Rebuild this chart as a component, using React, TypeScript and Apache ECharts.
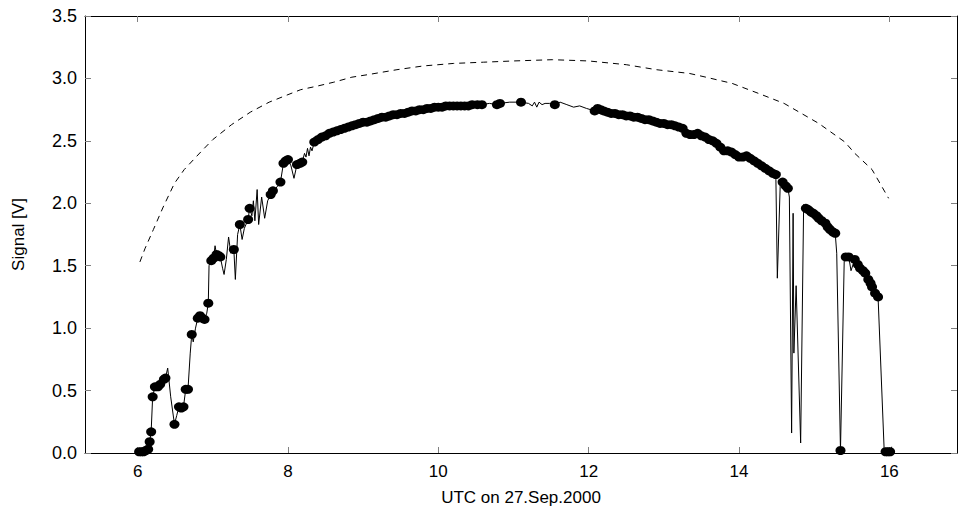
import React, { useEffect, useRef } from "react";
import * as echarts from "echarts";

// Measured signal: [UTC hour, signal V, clear flag (1 = marked point)]
const measured: [number, number, number][] = [
  [6.0, 0.04, 0], [6.02, 0.01, 1], [6.05, 0.01, 1], [6.08, 0.01, 1], [6.11, 0.02, 1], [6.14, 0.03, 1],
  [6.16, 0.09, 1], [6.18, 0.17, 1], [6.2, 0.45, 1], [6.23, 0.53, 1], [6.27, 0.53, 1], [6.3, 0.55, 1],
  [6.35, 0.59, 1], [6.37, 0.6, 1], [6.4, 0.68, 0], [6.44, 0.45, 0], [6.49, 0.23, 1], [6.52, 0.3, 0],
  [6.55, 0.37, 1], [6.58, 0.36, 1], [6.61, 0.37, 1], [6.64, 0.51, 1], [6.67, 0.51, 1], [6.7, 0.8, 0],
  [6.72, 0.95, 1], [6.74, 0.89, 0], [6.77, 1.0, 0], [6.8, 1.08, 1], [6.83, 1.1, 1], [6.86, 1.08, 1],
  [6.89, 1.07, 1], [6.92, 1.12, 0], [6.94, 1.2, 1], [6.95, 1.5, 0], [6.98, 1.54, 1], [7.01, 1.56, 1],
  [7.03, 1.66, 0], [7.05, 1.59, 1], [7.08, 1.58, 1], [7.1, 1.57, 1], [7.13, 1.48, 0], [7.15, 1.43, 0],
  [7.18, 1.55, 0], [7.21, 1.73, 0], [7.24, 1.6, 0], [7.28, 1.63, 1], [7.3, 1.39, 0], [7.33, 1.75, 0],
  [7.36, 1.83, 1], [7.39, 1.71, 0], [7.42, 1.8, 0], [7.47, 1.87, 1], [7.49, 1.96, 1], [7.52, 1.9, 0],
  [7.54, 2.02, 0], [7.56, 1.86, 0], [7.59, 2.11, 0], [7.61, 1.83, 0], [7.65, 2.05, 0], [7.69, 1.88, 0],
  [7.73, 2.02, 0], [7.77, 2.07, 1], [7.8, 2.1, 1], [7.84, 2.12, 0], [7.9, 2.17, 1], [7.94, 2.32, 1],
  [7.97, 2.34, 1], [8.0, 2.35, 1], [8.04, 2.3, 0], [8.08, 2.2, 0], [8.12, 2.31, 1], [8.16, 2.32, 1],
  [8.19, 2.33, 1], [8.22, 2.4, 0], [8.24, 2.37, 0], [8.26, 2.44, 0], [8.28, 2.38, 0], [8.3, 2.45, 0],
  [8.32, 2.42, 0], [8.35, 2.49, 1], [8.4, 2.51, 1], [8.45, 2.53, 1], [8.5, 2.54, 1], [8.55, 2.56, 1],
  [8.6, 2.57, 1], [8.65, 2.58, 1], [8.7, 2.59, 1], [8.75, 2.6, 1], [8.8, 2.61, 1], [8.85, 2.62, 1],
  [8.9, 2.63, 1], [8.95, 2.64, 1], [9.0, 2.65, 1], [9.05, 2.65, 1], [9.1, 2.66, 1], [9.15, 2.67, 1],
  [9.2, 2.68, 1], [9.25, 2.69, 1], [9.3, 2.69, 1], [9.35, 2.7, 1], [9.4, 2.71, 1], [9.45, 2.71, 1],
  [9.5, 2.72, 1], [9.55, 2.72, 1], [9.6, 2.73, 1], [9.65, 2.74, 1], [9.7, 2.74, 1], [9.75, 2.75, 1],
  [9.8, 2.75, 1], [9.85, 2.76, 1], [9.9, 2.76, 1], [9.95, 2.77, 1], [10.0, 2.77, 1], [10.05, 2.77, 1],
  [10.1, 2.78, 1], [10.15, 2.78, 1], [10.2, 2.78, 1], [10.25, 2.78, 1], [10.3, 2.78, 1], [10.35, 2.78, 1],
  [10.4, 2.78, 1], [10.45, 2.79, 1], [10.52, 2.79, 1], [10.58, 2.79, 1], [10.68, 2.8, 0], [10.78, 2.79, 1],
  [10.82, 2.8, 1], [10.95, 2.81, 0], [11.1, 2.81, 1], [11.2, 2.8, 0], [11.25, 2.78, 0], [11.28, 2.81, 0],
  [11.31, 2.77, 0], [11.34, 2.81, 0], [11.38, 2.79, 0], [11.42, 2.8, 0], [11.48, 2.8, 0], [11.55, 2.79, 1],
  [11.62, 2.81, 0], [11.71, 2.79, 0], [11.8, 2.77, 0], [11.88, 2.78, 0], [11.97, 2.76, 0], [12.08, 2.74, 1],
  [12.12, 2.76, 1], [12.16, 2.75, 1], [12.2, 2.74, 1], [12.25, 2.73, 1], [12.3, 2.72, 1], [12.35, 2.72, 1],
  [12.4, 2.71, 1], [12.45, 2.71, 1], [12.5, 2.7, 1], [12.55, 2.7, 1], [12.6, 2.69, 1], [12.65, 2.69, 1],
  [12.7, 2.68, 1], [12.75, 2.67, 1], [12.8, 2.67, 1], [12.85, 2.66, 1], [12.9, 2.65, 1], [12.95, 2.64, 1],
  [13.0, 2.64, 1], [13.05, 2.63, 1], [13.1, 2.63, 1], [13.15, 2.62, 1], [13.2, 2.61, 1], [13.25, 2.6, 1],
  [13.3, 2.56, 1], [13.35, 2.55, 1], [13.4, 2.55, 1], [13.45, 2.56, 1], [13.5, 2.54, 1], [13.55, 2.53, 1],
  [13.6, 2.51, 1], [13.65, 2.5, 1], [13.7, 2.48, 1], [13.75, 2.45, 1], [13.8, 2.42, 1], [13.85, 2.42, 1],
  [13.9, 2.41, 1], [13.95, 2.39, 1], [14.0, 2.37, 1], [14.05, 2.37, 1], [14.1, 2.38, 1], [14.15, 2.36, 1],
  [14.2, 2.34, 1], [14.25, 2.32, 1], [14.3, 2.3, 1], [14.35, 2.28, 1], [14.4, 2.26, 1], [14.45, 2.24, 1],
  [14.49, 2.23, 1], [14.51, 1.4, 0], [14.55, 2.18, 0], [14.58, 2.17, 1], [14.62, 2.14, 1], [14.65, 2.12, 1],
  [14.67, 2.05, 0], [14.7, 0.16, 0], [14.72, 1.92, 0], [14.73, 0.8, 0], [14.76, 1.34, 0], [14.82, 0.08, 0],
  [14.86, 1.99, 0], [14.89, 1.96, 1], [14.92, 1.95, 1], [14.96, 1.93, 1], [14.99, 1.92, 1], [15.03, 1.9, 1],
  [15.06, 1.88, 1], [15.1, 1.86, 1], [15.15, 1.84, 1], [15.18, 1.81, 1], [15.21, 1.79, 1], [15.25, 1.77, 1],
  [15.28, 1.76, 1], [15.3, 1.6, 0], [15.35, 0.02, 1], [15.4, 1.55, 0], [15.42, 1.57, 1], [15.46, 1.57, 1],
  [15.49, 1.46, 0], [15.54, 1.55, 1], [15.58, 1.51, 1], [15.61, 1.48, 1], [15.65, 1.46, 1], [15.68, 1.44, 1],
  [15.72, 1.39, 1], [15.75, 1.36, 1], [15.77, 1.33, 1], [15.81, 1.28, 1], [15.85, 1.25, 1], [15.93, 0.04, 0],
  [15.95, 0.01, 1], [15.98, 0.01, 1], [16.01, 0.01, 1], [16.03, 0.05, 0],
];

// Clear-sky reference (dashed): [UTC hour, signal V]
const clearSky: [number, number][] = [
  [6.03, 1.53], [6.1, 1.64], [6.21, 1.79], [6.34, 1.97], [6.49, 2.16], [6.62, 2.27], [6.76, 2.36],
  [6.87, 2.43], [7.0, 2.51], [7.25, 2.63], [7.5, 2.73], [7.75, 2.81], [8.0, 2.87], [8.17, 2.91],
  [8.4, 2.94], [8.61, 2.97], [8.85, 3.01], [9.06, 3.03], [9.45, 3.07], [9.8, 3.1], [10.2, 3.12],
  [10.6, 3.13], [11.0, 3.14], [11.52, 3.15], [12.0, 3.14], [12.5, 3.11], [12.9, 3.07], [13.34, 3.04],
  [13.56, 3.01], [13.91, 2.96], [14.26, 2.88], [14.6, 2.8], [15.06, 2.64], [15.41, 2.49], [15.54, 2.4],
  [15.77, 2.27], [15.99, 2.04],
];

const xTicks = [6, 8, 10, 12, 14, 16];
const xRange = [5.3, 16.9];
const yRange = [0, 3.5];

export default function App() {
  const ref = useRef<HTMLDivElement>(null);
  useEffect(() => {
    if (!ref.current) return;
    const chart = echarts.init(ref.current, undefined, { renderer: "svg" });
    const font = "Liberation Sans, Arial, sans-serif";
    const tickStyle = { color: "#808080", width: 1 };
    const xBase = {
      type: "value" as const,
      min: xRange[0],
      max: xRange[1],
      splitLine: { show: false },
      axisLine: { show: true, onZero: false, lineStyle: { color: "#000", width: 1 } },
    };
    const yBase = {
      type: "value" as const,
      min: yRange[0],
      max: yRange[1],
      interval: 0.5,
      splitLine: { show: false },
      axisLine: { show: true, onZero: false, lineStyle: { color: "#000", width: 1 } },
    };
    chart.setOption({
      animation: false,
      backgroundColor: "#fff",
      grid: { left: 85, right: 3, top: 16, bottom: 60, containLabel: false },
      xAxis: [
        {
          ...xBase,
          position: "bottom",
          name: "UTC on 27.Sep.2000",
          nameLocation: "middle",
          nameGap: 36,
          nameTextStyle: { fontFamily: font, fontSize: 17, color: "#000" },
          axisTick: { show: true, inside: true, length: 6, lineStyle: tickStyle, customValues: xTicks },
          axisLabel: {
            show: true,
            customValues: xTicks,
            margin: 10,
            fontFamily: font,
            fontSize: 17,
            color: "#000",
            formatter: (v: number) => String(v),
          },
        },
        {
          ...xBase,
          position: "top",
          axisTick: { show: true, inside: true, length: 6, lineStyle: tickStyle, customValues: xTicks },
          axisLabel: { show: false },
        },
      ],
      yAxis: [
        {
          ...yBase,
          position: "left",
          name: "Signal [V]",
          nameLocation: "middle",
          nameGap: 58,
          nameRotate: 90,
          nameTextStyle: { fontFamily: font, fontSize: 17, color: "#000" },
          axisTick: { show: true, inside: true, length: 6, lineStyle: tickStyle },
          axisLabel: {
            show: true,
            margin: 8,
            fontFamily: font,
            fontSize: 18,
            color: "#000",
            formatter: (v: number) => v.toFixed(1),
          },
        },
        {
          ...yBase,
          position: "right",
          axisTick: { show: true, inside: true, length: 6, lineStyle: tickStyle },
          axisLabel: { show: false },
        },
      ],
      series: [
        {
          type: "line",
          data: clearSky,
          showSymbol: false,
          symbol: "none",
          lineStyle: { color: "#000", width: 1, type: [6, 5] },
          z: 2,
        },
        {
          type: "line",
          data: measured.map((d) => [d[0], d[1]]),
          showSymbol: false,
          symbol: "none",
          lineStyle: { color: "#000", width: 1 },
          z: 3,
        },
        {
          type: "scatter",
          data: measured.filter((d) => d[2] === 1).map((d) => [d[0], d[1]]),
          symbol: "circle",
          symbolSize: [10, 9],
          itemStyle: { color: "#000", opacity: 1 },
          z: 4,
        },
      ],
    });
    return () => chart.dispose();
  }, []);
  return <div ref={ref} style={{ width: 960, height: 513, position: "absolute", left: 0, top: 0 }} />;
}
